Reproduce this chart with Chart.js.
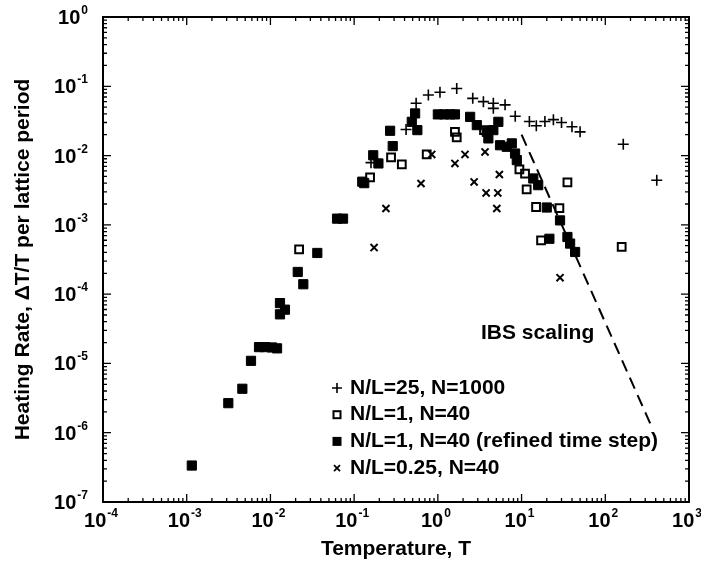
<!DOCTYPE html>
<html>
<head>
<meta charset="utf-8">
<script src="https://cdn.jsdelivr.net/npm/chart.js@4.4.0/dist/chart.umd.min.js"></script>
<style>
  html, body { margin: 0; padding: 0; background: #fff; }
  #wrap { position: relative; width: 701px; height: 566px; }
</style>
</head>
<body>
<div id="wrap"><canvas id="heatingChart"></canvas></div>
<script>
// --- Values: temperature T vs heating rate (dT/T per lattice period)

// N/L=25, N=1000  (+)
const plusT    = [0.159, 0.417, 0.55, 0.77, 1.06, 1.68, 2.61, 3.5, 4.6, 4.6, 6.35, 8.4, 12.4, 15, 19, 24, 30, 40, 50, 164, 412];
const plusRate = [0.0079, 0.0238, 0.057, 0.075, 0.082, 0.093, 0.067, 0.060, 0.057, 0.048, 0.054, 0.037, 0.031, 0.027, 0.031, 0.033, 0.030, 0.026, 0.022, 0.0146, 0.0044];

// N/L=1, N=40  (open squares)
const openT    = [0.022, 0.155, 0.276, 0.371, 0.736, 1.60, 1.68, 3.56, 9.42, 11.0, 11.5, 14.9, 17.1, 28.3, 35.3, 157];
const openRate = [4.44e-4, 0.00483, 0.0094, 0.00744, 0.0104, 0.022, 0.0183, 0.0233, 0.0063, 0.0055, 0.00324, 0.00181, 5.99e-4, 0.00175, 0.00409, 4.8e-4];

// N/L=1, N=40 (refined time step)  (filled squares)
const filledT    = [0.00115, 0.00314, 0.00462, 0.00586, 0.00731, 0.00862, 0.01045, 0.012, 0.013, 0.0149, 0.013, 0.0212, 0.0247, 0.0363, 0.0625, 0.0737,
                    0.125, 0.132, 0.169, 0.195, 0.269, 0.289, 0.488, 0.535, 0.569, 1.0, 1.19, 1.4, 1.6, 2.43, 2.92, 3.84, 4.6, 5.28, 4.01,
                    5.53, 6.65, 7.64, 8.36, 8.77, 13.8, 15.8, 20, 28.8, 21.5, 35.3, 38, 43.6];
const filledRate = [3.36e-7, 2.67e-6, 4.31e-6, 1.09e-5, 1.72e-5, 1.72e-5, 1.70e-5, 1.65e-5, 7.43e-5, 5.97e-5, 5.11e-5, 2.09e-4, 1.39e-4, 3.93e-4, 1.23e-3, 1.23e-3,
                    0.0042, 0.0040, 0.0101, 0.0077, 0.0228, 0.0137, 0.0307, 0.0406, 0.0233, 0.0393, 0.0393, 0.0393, 0.0393, 0.0362, 0.0275, 0.022, 0.0233, 0.0307, 0.0177,
                    0.0141, 0.0134, 0.015, 0.0107, 0.0086, 0.00467, 0.00374, 0.00178, 0.00116, 6.3e-4, 6.68e-4, 5.37e-4, 4.06e-4];

// N/L=0.25, N=40  (x)
const crossT    = [0.173, 0.24, 0.629, 0.845, 1.60, 2.11, 2.71, 3.66, 3.77, 5.06, 5.2, 5.43, 28.8];
const crossRate = [4.7e-4, 0.00172, 0.00395, 0.0104, 0.0077, 0.0104, 0.00417, 0.0113, 0.00289, 0.00172, 0.00289, 0.00533, 1.73e-4];

// IBS scaling (dashed line end points)
const ibsT    = [10, 345];
const ibsRate = [0.02, 1.35e-6];

// axis decades
const xExponents = [-4, -3, -2, -1, 0, 1, 2, 3];
const yExponents = [-7, -6, -5, -4, -3, -2, -1, 0];

const legendLabels = ['N/L=25, N=1000', 'N/L=1, N=40', 'N/L=1, N=40 (refined time step)', 'N/L=0.25, N=40'];
const xTitle = 'Temperature, T';
const yTitle = 'Heating Rate, \u0394T/T per lattice period';
const ibsLabel = 'IBS scaling';

const FONT = '"Liberation Sans", Arial, sans-serif';

function toPoints(xs, ys) {
    return xs.map((v, i) => ({ x: v, y: ys[i] }));
}

// small marker painter for the legend (same look as the chart points)
function drawMarker(ctx, kind, x, y) {
    ctx.save();
    ctx.strokeStyle = '#000';
    ctx.fillStyle = '#000';
    if (kind === 'plus') {
        ctx.lineWidth = 1.6;
        ctx.beginPath();
        ctx.moveTo(x - 5, y); ctx.lineTo(x + 5, y);
        ctx.moveTo(x, y - 5); ctx.lineTo(x, y + 5);
        ctx.stroke();
    } else if (kind === 'open') {
        ctx.lineWidth = 2;
        ctx.strokeRect(x - 3.5, y - 3.5, 7, 7);
    } else if (kind === 'filled') {
        ctx.fillRect(x - 4.5, y - 4.5, 9, 9);
    } else {
        ctx.lineWidth = 1.8;
        ctx.beginPath();
        ctx.moveTo(x - 3, y - 3); ctx.lineTo(x + 3, y + 3);
        ctx.moveTo(x + 3, y - 3); ctx.lineTo(x - 3, y + 3);
        ctx.stroke();
    }
    ctx.restore();
}

// "10" with a raised exponent
function drawPower(ctx, exp, x, y, align) {
    const base = '10', sup = exp < 0 ? '-' + Math.abs(exp) : String(exp);
    ctx.font = 'bold 20px ' + FONT;
    const wb = ctx.measureText(base).width;
    ctx.font = 'bold 12px ' + FONT;
    const ws = ctx.measureText(sup).width;
    const total = wb + ws + 1;
    let left = align === 'right' ? x - total : x - total / 2;
    ctx.textAlign = 'left';
    ctx.textBaseline = 'alphabetic';
    ctx.font = 'bold 20px ' + FONT;
    ctx.fillText(base, left, y);
    ctx.font = 'bold 12px ' + FONT;
    ctx.fillText(sup, left + wb + 1, y - 10);
}

const frameAndText = {
    id: 'frameAndText',
    afterDatasetsDraw(chart) {
        const { ctx, chartArea: a, scales } = chart;
        const xs = scales.x, ys = scales.y;
        ctx.save();
        ctx.strokeStyle = '#000';
        ctx.lineWidth = 2;
        ctx.strokeRect(a.left, a.top, a.right - a.left, a.bottom - a.top);

        // inward ticks on all four sides
        ctx.lineWidth = 1.3;
        ctx.beginPath();
        xExponents.forEach((e, i) => {
            const px = xs.getPixelForValue(Math.pow(10, e));
            ctx.moveTo(px, a.bottom); ctx.lineTo(px, a.bottom - 8);
            ctx.moveTo(px, a.top); ctx.lineTo(px, a.top + 8);
            if (i < xExponents.length - 1) {
                for (let m = 2; m <= 9; m++) {
                    const mx = xs.getPixelForValue(m * Math.pow(10, e));
                    ctx.moveTo(mx, a.bottom); ctx.lineTo(mx, a.bottom - 4);
                    ctx.moveTo(mx, a.top); ctx.lineTo(mx, a.top + 4);
                }
            }
        });
        yExponents.forEach((e, i) => {
            const py = ys.getPixelForValue(Math.pow(10, e));
            ctx.moveTo(a.left, py); ctx.lineTo(a.left + 8, py);
            ctx.moveTo(a.right, py); ctx.lineTo(a.right - 8, py);
            if (i < yExponents.length - 1) {
                for (let m = 2; m <= 9; m++) {
                    const my = ys.getPixelForValue(m * Math.pow(10, e));
                    ctx.moveTo(a.left, my); ctx.lineTo(a.left + 4, my);
                    ctx.moveTo(a.right, my); ctx.lineTo(a.right - 4, my);
                }
            }
        });
        ctx.stroke();

        ctx.fillStyle = '#000';
        // tick labels
        xExponents.forEach(e => drawPower(ctx, e, xs.getPixelForValue(Math.pow(10, e)) - 2, a.bottom + 25, 'center'));
        yExponents.forEach(e => drawPower(ctx, e, a.left - 15, ys.getPixelForValue(Math.pow(10, e)) + 7, 'right'));

        // axis titles
        ctx.font = 'bold 21px ' + FONT;
        ctx.textAlign = 'center';
        ctx.textBaseline = 'middle';
        ctx.fillText(xTitle, (a.left + a.right) / 2, 549);
        ctx.save();
        ctx.translate(23, (a.top + a.bottom) / 2);
        ctx.rotate(-Math.PI / 2);
        ctx.fillText(yTitle, 0, 0);
        ctx.restore();

        // IBS label
        ctx.textAlign = 'left';
        ctx.fillText(ibsLabel, 481, 333);

        // legend
        const kinds = ['plus', 'open', 'filled', 'cross'];
        legendLabels.forEach((lab, i) => {
            const ly = 388 + i * 26.7;
            drawMarker(ctx, kinds[i], 337, ly);
            ctx.fillText(lab, 350, ly);
        });
        ctx.restore();
    }
};

new Chart(document.getElementById('heatingChart').getContext('2d'), {
    type: 'scatter',
    data: {
        datasets: [
            {
                label: legendLabels[0],
                data: toPoints(plusT, plusRate),
                pointStyle: 'cross',
                pointRadius: 5.5,
                borderColor: '#000',
                borderWidth: 1.6
            },
            {
                label: legendLabels[1],
                data: toPoints(openT, openRate),
                pointStyle: 'rect',
                pointRadius: 5.5,
                borderColor: '#000',
                backgroundColor: 'rgba(0,0,0,0)',
                borderWidth: 2
            },
            {
                label: legendLabels[2],
                data: toPoints(filledT, filledRate),
                pointStyle: 'rect',
                pointRadius: 6.5,
                borderColor: '#000',
                backgroundColor: '#000',
                borderWidth: 1
            },
            {
                label: legendLabels[3],
                data: toPoints(crossT, crossRate),
                pointStyle: 'crossRot',
                pointRadius: 5,
                borderColor: '#000',
                borderWidth: 2
            },
            {
                label: ibsLabel,
                data: toPoints(ibsT, ibsRate),
                showLine: true,
                pointRadius: 0,
                borderColor: '#000',
                borderWidth: 2,
                borderDash: [12, 7]
            }
        ]
    },
    options: {
        responsive: true,
        maintainAspectRatio: false,
        animation: false,
        layout: { padding: { left: 103, right: 12, top: 17, bottom: 64 } },
        scales: {
            x: {
                type: 'logarithmic', min: 1e-4, max: 1e3,
                ticks: { display: false },
                grid: { display: false, drawTicks: false },
                border: { display: false }
            },
            y: {
                type: 'logarithmic', min: 1e-7, max: 1,
                ticks: { display: false },
                grid: { display: false, drawTicks: false },
                border: { display: false }
            }
        },
        plugins: {
            legend: { display: false },
            tooltip: { enabled: false }
        }
    },
    plugins: [frameAndText]
});
</script>
</body>
</html>
